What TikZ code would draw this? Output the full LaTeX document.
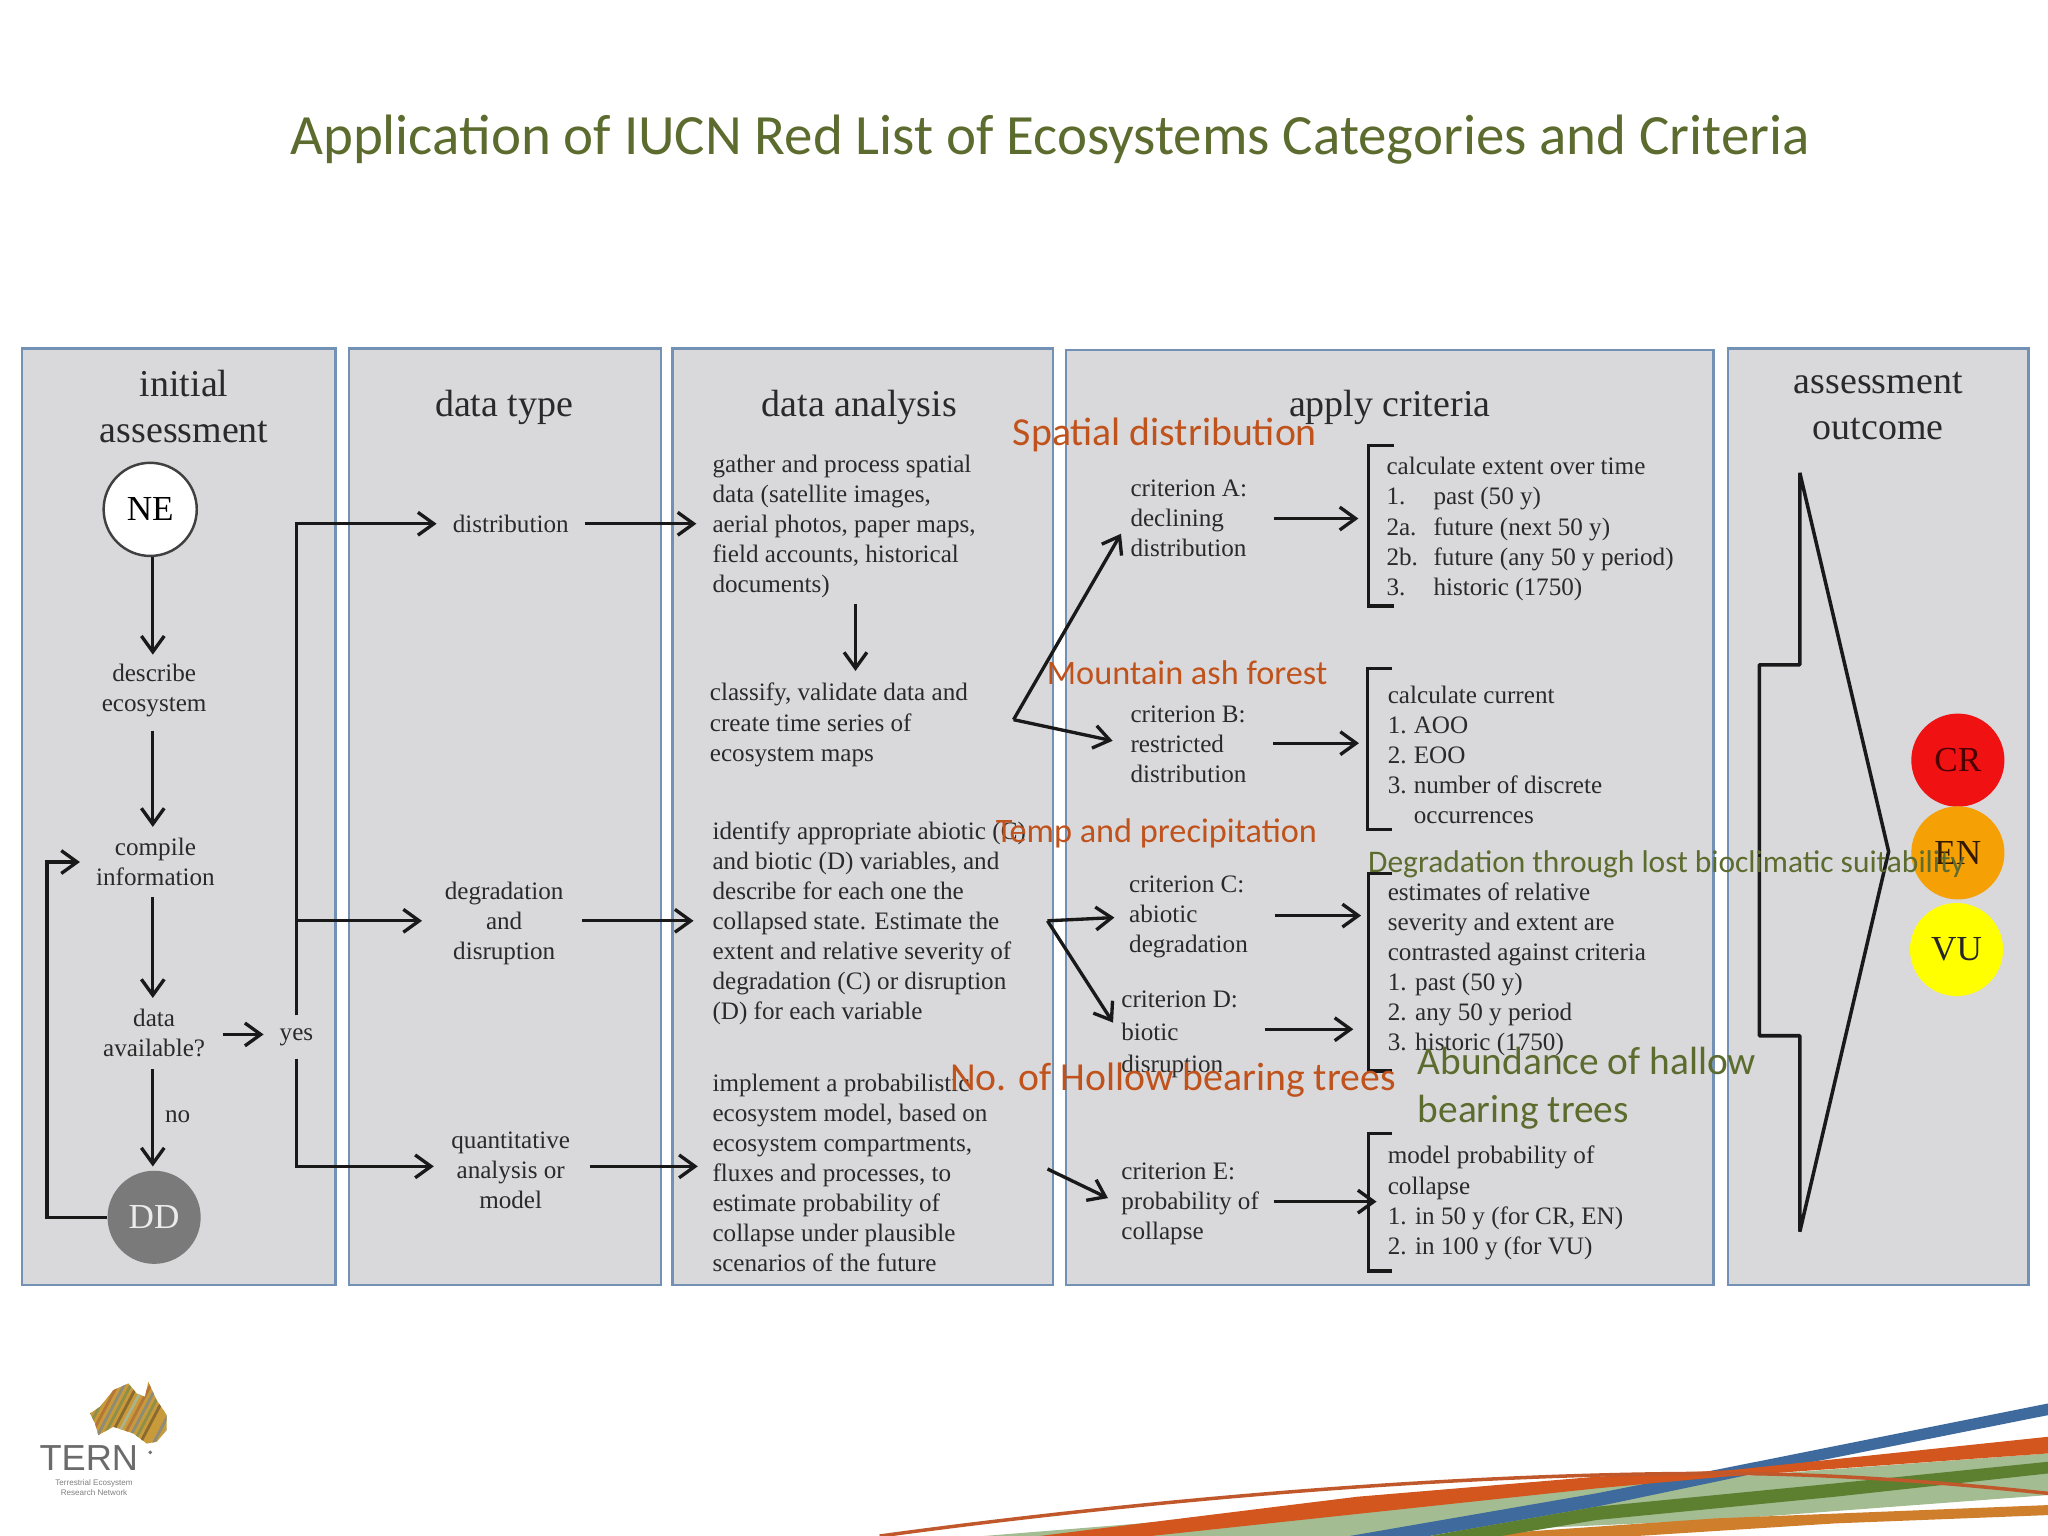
\documentclass[tikz,border=0pt]{standalone}
\usepackage{fontspec}
\setmainfont{Liberation Serif}
\newfontfamily\carl{Carlito}
\newfontfamily\hvs{Liberation Sans}
\usetikzlibrary{arrows.meta,calc}
\definecolor{panelfill}{HTML}{D9D9DB}
\definecolor{panelline}{HTML}{7391B4}
\definecolor{inkc}{HTML}{2A2A2A}
\definecolor{titlegreen}{HTML}{5C6B2E}
\definecolor{labelorange}{HTML}{C0521C}
\definecolor{ribblue}{HTML}{3E6A9E}
\definecolor{ribred}{HTML}{D2561E}
\definecolor{ribpale}{HTML}{A3BC92}
\definecolor{ribgreen}{HTML}{5C7F30}
\definecolor{ribamber}{HTML}{CF7E2C}
\definecolor{ribthin}{HTML}{C0582C}
\definecolor{rateR}{RGB}{240,18,18}
\definecolor{rateO}{RGB}{245,160,5}
\definecolor{rateY}{RGB}{255,255,0}
\definecolor{logoA}{HTML}{8A6A30}
\definecolor{logoB}{HTML}{8E8F4A}
\definecolor{logoC}{HTML}{C99A3A}
\definecolor{logoD}{HTML}{8C8C78}
\definecolor{logoE}{HTML}{B5763A}
\definecolor{logoF}{HTML}{A9B48C}
\tikzset{
  x=0.013061cm,y=-0.013061cm,
  panel/.style={fill=panelfill,draw=panelline,line width=0.7pt},
  head/.style={font=\fontsize{10.8}{13}\selectfont,text=inkc,align=center,inner sep=0pt},
  body/.style={font=\fontsize{7.15}{8.55}\selectfont,text=inkc,align=left,inner sep=0pt,anchor=west},
  flow/.style={font=\fontsize{7.15}{8.55}\selectfont,text=inkc,align=center,inner sep=0pt},
  arr/.style={draw=black!90,line width=0.95pt,-{Straight Barb[length=4.5pt,width=6.5pt,line width=0.95pt]}},
  bracket/.style={draw=black!90,line width=0.95pt},
  state/.style={circle,inner sep=0pt,minimum size=26.5pt,font=\fontsize{10}{11}\selectfont},
  rating/.style={circle,inner sep=0pt,minimum size=26.5pt,font=\fontsize{10}{11}\selectfont},
  overo/.style={font=\carl\fontsize{11.3}{13}\selectfont,text=labelorange,anchor=west,inner sep=0pt,align=left},
  overg/.style={font=\carl\fontsize{11.2}{13.7}\selectfont,text=titlegreen,anchor=west,inner sep=0pt,align=left},
}
\begin{document}
\begin{tikzpicture}
\useasboundingbox (0,0) rectangle (1568,1176);
\fill[white] (0,0) rectangle (1568,1176);
% title
\node[font=\carl\fontsize{16.2}{18}\selectfont,text=titlegreen,inner sep=0pt] (title) at (804,107) {Application of IUCN Red List of Ecosystems Categories and Criteria};
% panels
\draw[panel] (17,267) rectangle (257,984);
\draw[panel] (267,267) rectangle (506,984);
\draw[panel] (515,267) rectangle (806,984);
\draw[panel] (816,268) rectangle (1312,984);
\draw[panel] (1323,267) rectangle (1553,984);
% headers
\node[head] (h1) at (141,311) {initial\\assessment};
\node[head] (h2) at (386,312) {data type};
\node[head] (h3) at (658,312) {data analysis};
\node[head] (h4) at (1064,312) {apply criteria};
\node[head] (h5) at (1438,311) {assessment\\outcome};
% initial assessment
\coordinate (fx) at (117,0);
\coordinate (rowy) at (0,792);
\coordinate (rowb) at (0,705);
\coordinate (rowc) at (0,893);
\coordinate (rowd) at (0,788);
\coordinate (rowe) at (0,920);
\node[state,fill=white,draw=black!75,line width=0.7pt] (ne) at (115,390) {NE};
\node[flow] (desc) at (118,529) {describe\\ecosystem};
\node[flow] (comp) at (119,660) {compile\\information};
\node[flow] (avail) at (118,791) {data\\available?};
\node[flow] (no) at (136,855) {no};
\node[state,fill=black!52,text=white!92!black] (dd) at (118,932) {DD};
\node[flow] (yes) at (227,794) {yes};
\coordinate (loop) at (36,932);
\draw[arr,shorten >=2.6pt] (fx |- ne.south) -- (fx |- desc.north);
\draw[arr,shorten <=3.6pt,shorten >=3pt] (fx |- desc.south) -- (fx |- comp.north);
\draw[arr,shorten <=3pt,shorten >=3pt] (fx |- comp.south) -- (fx |- avail.north);
\draw[arr,shorten <=3.3pt,shorten >=1pt] (fx |- avail.south) -- (fx |- dd.north);
\draw[arr,shorten <=4.8pt,shorten >=4.4pt] (avail.east |- rowy) -- (yes.west |- rowy);
\draw[arr,shorten >=4.4pt] (dd.west) -- (loop) |- (comp.west);
% data type
\node[flow] (dist) at (391,401) {distribution};
\node[flow] (deg) at (386,707) {degradation\\and\\disruption};
\node[flow] (quant) at (391,896) {quantitative\\analysis or\\model};
\draw[arr,shorten <=3.5pt,shorten >=4.4pt] (yes.north) |- (dist.west);
\draw[arr,shorten >=6.3pt] (yes.north |- rowb) -- (deg.west |- rowb);
\draw[arr,shorten <=3.5pt,shorten >=4.8pt] (yes.south) |- (quant.west |- rowc);
% data analysis
\node[body] (a1) at (545,403) {gather and process spatial\\data (satellite images,\\aerial photos, paper maps,\\field accounts, historical\\documents)};
\node[body] (a2) at (543,555) {classify, validate data and\\create time series of\\ecosystem maps};
\node[body] (a3) at (545,707) {identify appropriate abiotic (C)\\and biotic (D) variables, and\\describe for each one the\\collapsed state. Estimate the\\extent and relative severity of\\degradation (C) or disruption\\(D) for each variable};
\node[body] (a4) at (545,898) {implement a probabilistic\\ecosystem model, based on\\ecosystem compartments,\\fluxes and processes, to\\estimate probability of\\collapse under plausible\\scenarios of the future};
\coordinate (a12) at (655,461);
\draw[arr,shorten <=1.5pt,shorten >=3.3pt] (a12 |- a1.south) -- (a12 |- a2.north);
\draw[arr,shorten <=4.4pt,shorten >=4.4pt] (dist.east) -- (a1.west |- dist.east);
\draw[arr,shorten <=5pt,shorten >=5.2pt] (deg.east |- rowb) -- (a3.west |- rowb);
\draw[arr,shorten <=5.5pt,shorten >=4pt] (quant.east |- rowc) -- (a4.west |- rowc);
% criteria
\node[body] (ca) at (865,397) {criterion A:\\declining\\distribution};
\node[body] (cb) at (865,570) {criterion B:\\restricted\\distribution};
\node[body] (cc) at (864,702) {criterion C:\\abiotic\\degradation};
\node[body,font=\fontsize{7.15}{9.3}\selectfont] (cd) at (858,792) {criterion D:\\biotic\\disruption};
\node[body] (ce) at (858,922) {criterion E:\\probability of\\collapse};
\coordinate (j1) at (776,551);
\coordinate (j2) at (802,705);
\coordinate (j3) at (802,895);
\draw[arr,shorten >=5pt] (j1) -- (ca.west);
\draw[arr,shorten >=5pt] (j1) -- (cb.west);
\draw[arr,shorten >=4pt] (j2) -- (cc.west);
\draw[arr,shorten >=4pt] (j2) -- (cd.west);
\draw[arr,shorten >=4pt] (j3) -- (ce.west);
% blocks
\node[body] (b1) at (1061,405) {calculate extent over time\\\makebox[13.4pt][l]{1.}past (50 y)\\\makebox[13.4pt][l]{2a.}future (next 50 y)\\\makebox[13.4pt][l]{2b.}future (any 50 y period)\\\makebox[13.4pt][l]{3.}historic (1750)};
\node[body] (b2) at (1062,578) {calculate current\\\makebox[7.4pt][l]{1.}AOO\\\makebox[7.4pt][l]{2.}EOO\\\makebox[7.4pt][l]{3.}number of discrete\\\hspace*{7.4pt}occurrences};
\node[body] (b3) at (1062,742) {estimates of relative\\severity and extent are\\contrasted against criteria\\\makebox[7.8pt][l]{1.}past (50 y)\\\makebox[7.8pt][l]{2.}any 50 y period\\\makebox[7.8pt][l]{3.}historic (1750)};
\node[body] (b4) at (1062,921) {model probability of\\collapse\\\makebox[7.8pt][l]{1.}in 50 y (for CR, EN)\\\makebox[7.8pt][l]{2.}in 100 y (for VU)};
\draw[arr,shorten <=7.4pt,shorten >=7.8pt] (ca.east) -- (b1.west |- ca.east);
\draw[arr,shorten <=7.4pt,shorten >=8pt] (cb.east |- b2.center |- 0,569) -- (b2.west |- 0,569);
\draw[arr,shorten <=7.4pt,shorten >=7.4pt] (cc.east |- 0,701) -- (b3.west |- 0,701);
\draw[arr,shorten <=7.4pt,shorten >=9.6pt] (cd.east |- rowd) -- (b3.west |- rowd);
\draw[arr,shorten <=4pt,shorten >=3pt] (ce.east |- rowe) -- (b4.west |- rowe);
\draw[bracket] (1067,341) -- (1048,341) -- (1048,464) -- (1067,464);
\draw[bracket] (1066,512) -- (1047,512) -- (1047,635) -- (1066,635);
\draw[bracket] (1066,669) -- (1048,669) -- (1048,820) -- (1066,820);
\draw[bracket] (1066,868) -- (1048,868) -- (1048,973) -- (1066,973);
% outcome
\draw[black!90,line width=1pt,line join=bevel] (1378,362) -- (1378,509) -- (1347,509) -- (1347,793) -- (1378,793) -- (1378,943) -- (1446,652) -- cycle;
\node[rating,fill=rateR,text=black!70!red] (cr) at (1499,582) {CR};
\node[rating,fill=rateO,text=black!80!orange] (en) at (1499,653) {EN};
\node[rating,fill=rateY,text=black!85] (vu) at (1498,727) {VU};
% overlay labels
\node[overo] (ov1) at (775,333) {Spatial distribution};
\node[overo,font=\carl\fontsize{9.75}{13}\selectfont] (ov2) at (801,515) {Mountain ash forest};
\node[overo,font=\carl\fontsize{9.75}{13}\selectfont] (ov3) at (762,638) {Temp and precipitation};
\node[overo] (ov4) at (727,827) {No. of Hollow bearing trees};
\node[overg,font=\carl\fontsize{8.95}{11}\selectfont] (ov5) at (1047,662) {Degradation through lost bioclimatic suitability};
\node[overg] (ov6) at (1085,833) {Abundance of hallow\\bearing trees};
% ribbons
\begin{scope}[shift={(612.5,1041.3)},xscale=0.6096,yscale=0.2552]
\fill[ribpale] (230,528) -- (1000,380) -- (1568,280) -- (1568,405) -- (1150,480) -- (700,528) -- cycle;
\fill[ribamber] (830,528) -- (1150,475) -- (1568,435) -- (1568,465) -- (1300,490) -- (1050,528) -- cycle;
\fill[ribblue] (690,528) -- (1000,400) -- (1170,320) -- (1568,130) -- (1568,165) -- (1200,340) -- (1000,440) -- (790,528) -- cycle;
\fill[ribgreen] (790,528) -- (1000,440) -- (1300,370) -- (1568,305) -- (1568,340) -- (1300,410) -- (1000,480) -- (880,528) -- cycle;
\fill[ribred] (300,528) -- (700,410) -- (1000,350) -- (1170,330) -- (1568,230) -- (1568,280) -- (1160,350) -- (1000,385) -- (440,528) -- cycle;
\draw[ribthin,line width=1pt] (100,528) .. controls (400,430) and (800,340) .. (1150,340) .. controls (1300,340) and (1450,370) .. (1568,400);
\end{scope}
% logo
\begin{scope}[shift={(0,995.4)},xscale=0.2552,yscale=0.2552]
\begin{scope}
\clip (270,340) -- (300,320) -- (340,270) -- (385,250) -- (410,280) -- (435,290) -- (445,245) -- (470,300) -- (500,345) -- (500,390) -- (470,425) -- (440,430) -- (400,400) -- (340,380) -- (295,405) -- (285,370) -- cycle;
\fill[logoC] (260,240) rectangle (510,440);
\foreach \i/\c in {0/logoA,1/logoB,2/logoE,3/logoD,4/logoB,5/logoA,6/logoF,7/logoE,8/logoD,9/logoB,10/logoA,11/logoC,12/logoD,13/logoF,14/logoB}{
  \draw[\c,line width=0.8pt] (220+\i*20,430) -- (320+\i*20,240);
}
\end{scope}
\end{scope}
\node[font=\hvs\fontsize{10.3}{13}\selectfont,text=black!58,inner sep=0pt] (tern) at (68,1116) {TERN};
\node[font=\hvs\fontsize{2.3}{3}\selectfont,text=black!50,align=center,inner sep=0pt] (ternsub) at (72,1139) {Terrestrial Ecosystem\\Research Network};
\fill[black!55] (115,1112) circle (1.5);
\end{tikzpicture}
\end{document}
